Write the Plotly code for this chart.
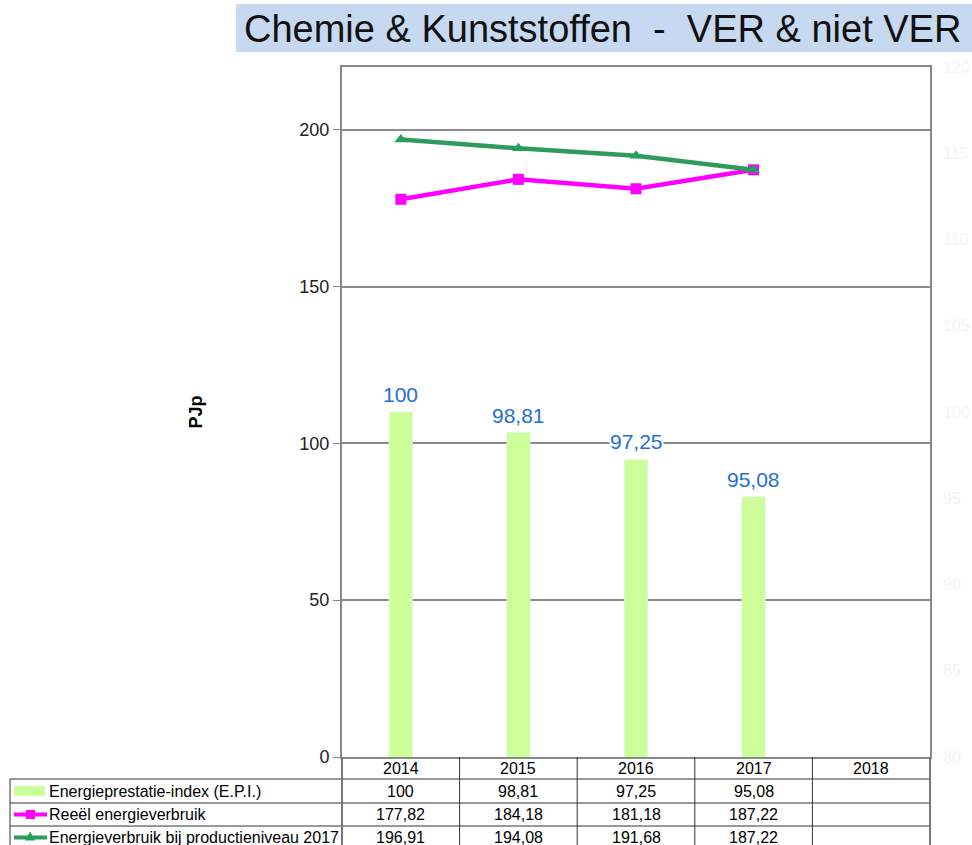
import plotly.graph_objects as go

years = ["2014", "2015", "2016", "2017", "2018"]
epi = [100, 98.81, 97.25, 95.08, None]
reeel = [177.82, 184.18, 181.18, 187.22, None]
productie = [196.91, 194.08, 191.68, 187.22, None]

series_names = ["Energieprestatie-index (E.P.I.)",
                "Reeël energieverbruik",
                "Energieverbruik bij productieniveau 2017"]

W, H = 972, 845
L, R, T, B = 342, 930, 67, 757   # plot area in pixels


def px(x):
    return (x - L) / (R - L)


def py(y):
    return (B - y) / (B - T)


def fmt(v):
    return "" if v is None else f"{v:g}".replace(".", ",")


FONT = "Liberation Sans, Arial, sans-serif"
green_bar = "#ccff99"
magenta = "#ff00ff"
green_line = "#2e9a5c"

fig = go.Figure()
fig.add_trace(go.Bar(x=years, y=epi, yaxis="y2", marker_color=green_bar,
                     width=0.2, name=series_names[0], showlegend=False))
fig.add_trace(go.Scatter(x=years, y=reeel, mode="lines+markers",
                         line=dict(color=magenta, width=4.5),
                         marker=dict(symbol="square", size=11, color=magenta),
                         name=series_names[1], showlegend=False))
fig.add_trace(go.Scatter(x=years, y=productie, mode="lines+markers",
                         line=dict(color=green_line, width=4.5),
                         marker=dict(symbol="triangle-up", size=11, color="#1fa35a"),
                         name=series_names[2], showlegend=False))

annotations = []
shapes = []

# data labels above the bars (category axis -> use the category index)
for i, v in enumerate(epi):
    if v is None:
        continue
    annotations.append(dict(x=i, y=v, xref="x", yref="y2", text=fmt(v),
                            showarrow=False, yanchor="bottom", yshift=5,
                            bgcolor="white", borderpad=0,
                            font=dict(family=FONT, size=21, color="#1f6fd2")))

# title box
shapes.append(dict(type="rect", xref="paper", yref="paper",
                   x0=px(236), x1=px(975), y0=py(52), y1=py(4),
                   fillcolor="#c6d9f1", line=dict(width=0), layer="below"))
annotations.append(dict(x=px(602), y=py(29), xref="paper", yref="paper",
                        text="Chemie & Kunststoffen  -  VER & niet VER",
                        showarrow=False, xanchor="center", yanchor="middle",
                        font=dict(family=FONT, size=38, color="#111111")))

# data table
row_edges = [B, 779, 803, 826, 849]
grid = dict(color="#333333", width=1)
for y in row_edges[1:]:
    shapes.append(dict(type="line", xref="paper", yref="paper",
                       x0=px(10), x1=1, y0=py(y), y1=py(y), line=grid))
shapes.append(dict(type="line", xref="paper", yref="paper",
                   x0=px(10), x1=px(10), y0=py(779), y1=py(849), line=grid))
for i in range(len(years) + 1):
    xp = i / len(years)
    edge = i in (0, len(years))
    shapes.append(dict(type="line", xref="paper", yref="paper",
                       x0=xp, x1=xp, y0=0, y1=py(849),
                       line=dict(color="#777777" if edge else "#333333",
                                 width=2 if edge else 1)))

cell_font = dict(family=FONT, size=16, color="black")
mid = [(row_edges[k] + row_edges[k + 1]) / 2 for k in range(4)]
for i, yr in enumerate(years):
    annotations.append(dict(x=i, y=py(mid[0]), xref="x", yref="paper", text=yr,
                            showarrow=False, yanchor="middle", font=cell_font))
for k, vals in enumerate([epi, reeel, productie]):
    for i, v in enumerate(vals):
        annotations.append(dict(x=i, y=py(mid[k + 1]), xref="x", yref="paper",
                                text=fmt(v), showarrow=False, yanchor="middle",
                                font=cell_font))
    annotations.append(dict(x=px(47), y=py(mid[k + 1]), xref="paper", yref="paper",
                            text=series_names[k], showarrow=False, xanchor="left",
                            yanchor="middle", font=cell_font))

# legend keys in the table
shapes.append(dict(type="rect", xref="paper", yref="paper",
                   x0=px(14), x1=px(45), y0=py(mid[1] + 5), y1=py(mid[1] - 5),
                   fillcolor=green_bar, line=dict(width=0)))
shapes.append(dict(type="line", xref="paper", yref="paper",
                   x0=px(14), x1=px(47), y0=py(mid[2]), y1=py(mid[2]),
                   line=dict(color=magenta, width=4)))
shapes.append(dict(type="rect", xref="paper", yref="paper",
                   x0=px(26), x1=px(35), y0=py(mid[2] + 4.5), y1=py(mid[2] - 4.5),
                   fillcolor=magenta, line=dict(width=0)))
shapes.append(dict(type="line", xref="paper", yref="paper",
                   x0=px(14), x1=px(47), y0=py(mid[3]), y1=py(mid[3]),
                   line=dict(color=green_line, width=4)))
shapes.append(dict(type="path", xref="paper", yref="paper",
                   path=f"M {px(25)},{py(mid[3] + 3)} L {px(35)},{py(mid[3] + 3)} "
                        f"L {px(30)},{py(mid[3] - 6)} Z",
                   fillcolor="#1fa35a", line=dict(width=0)))

fig.update_layout(
    width=W, height=H,
    margin=dict(l=L, r=W - R, t=T, b=H - B, autoexpand=False),
    paper_bgcolor="white", plot_bgcolor="white",
    font=dict(family=FONT),
    xaxis=dict(type="category", showticklabels=False, showgrid=False,
               showline=True, linecolor="#888888", linewidth=2, mirror=True,
               zeroline=False, ticks="", range=[-0.5, 4.5]),
    yaxis=dict(range=[0, 220], tickvals=[0, 50, 100, 150, 200],
               showgrid=True, gridcolor="#8a8a8a", gridwidth=1.5,
               showline=True, linecolor="#888888", linewidth=2, mirror=True,
               ticks="outside", ticklen=7, tickcolor="#888888",
               tickfont=dict(family=FONT, size=18, color="#222222"),
               zeroline=False,
               title=dict(text="<b>PJp</b>", standoff=92,
                          font=dict(family=FONT, size=18, color="black"))),
    yaxis2=dict(range=[80, 120], tickvals=[80, 85, 90, 95, 100, 105, 110, 115, 120],
                overlaying="y", side="right", showgrid=False, zeroline=False,
                ticklabelstandoff=12,
                tickfont=dict(family=FONT, size=16, color="#f4f4f4")),
    shapes=shapes,
    annotations=annotations,
)

fig.write_html("out.html", config={"displayModeBar": False},
               post_script="document.body.style.margin='0';"
                           "document.body.style.overflow='hidden';")
